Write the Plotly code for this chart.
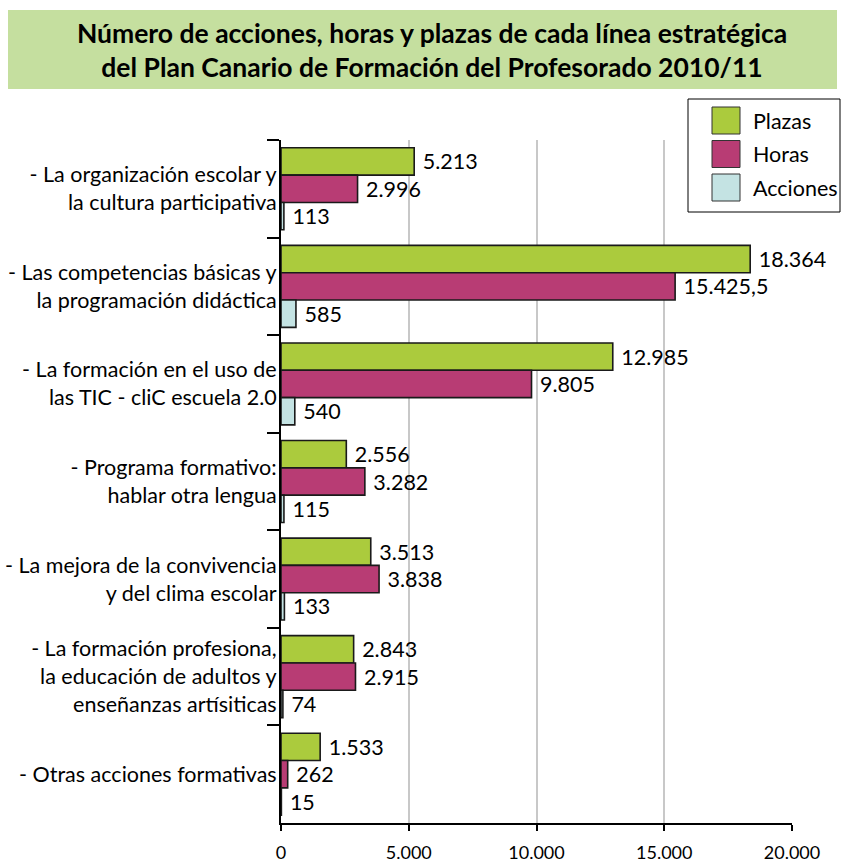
import plotly.graph_objects as go

categories = [
    "- La organización escolar y<br>la cultura participativa",
    "- Las competencias básicas y<br>la programación didáctica",
    "- La formación en el uso de<br>las TIC - cliC escuela 2.0",
    "- Programa formativo:<br>hablar otra lengua",
    "- La mejora de la convivencia<br>y del clima escolar",
    "- La formación profesiona,<br>la educación de adultos y<br>enseñanzas artísiticas",
    "- Otras acciones formativas",
]
series_names = ["Plazas", "Horas", "Acciones"]
plazas = [5213, 18364, 12985, 2556, 3513, 2843, 1533]
horas = [2996, 15425.5, 9805, 3282, 3838, 2915, 262]
acciones = [113, 585, 540, 115, 133, 74, 15]
x_tickvals = [0, 5000, 10000, 15000, 20000]
x_ticktext = ["0", "5.000", "10.000", "15.000", "20.000"]
title_text = ("Número de acciones, horas y plazas de cada línea estratégica<br>"
              "del Plan Canario de Formación del Profesorado 2010/11")

colors = ["#ABCB3D", "#B83C74", "#C4E3E3"]
FONT = "Lato"

W, H = 843, 862
PLOT_L, PLOT_R, PLOT_T, PLOT_B = 281, 792, 140, 823
L, R, T, B = PLOT_L, W - PLOT_R, PLOT_T, H - PLOT_B
PW, PH = PLOT_R - PLOT_L, PLOT_B - PLOT_T


def px_x(p):
    return (p - PLOT_L) / PW


def px_y(p):
    return (PLOT_B - p) / PH


fig = go.Figure()
for name, vals, col in zip(series_names, [plazas, horas, acciones], colors):
    fig.add_trace(go.Bar(
        name=name, y=categories, x=vals, orientation="h",
        marker=dict(color=col, line=dict(color="#1A1A1A", width=1.6)),
        texttemplate="\u00a0%{x:,}", textposition="outside",
        textfont=dict(family=FONT, size=21.5, color="black"),
        cliponaxis=False, showlegend=False,
    ))

shapes = [
    dict(type="rect", xref="paper", yref="paper",
         x0=px_x(8), x1=px_x(837), y0=px_y(89), y1=px_y(10),
         fillcolor="#C5DF9F", line=dict(width=0), layer="below"),
    dict(type="rect", xref="paper", yref="paper",
         x0=px_x(688), x1=px_x(840), y0=px_y(212), y1=px_y(99),
         fillcolor="white", line=dict(color="black", width=1)),
]
annotations = []
for i, (name, col) in enumerate(zip(series_names, colors)):
    cy = 120.5 + i * 33.5
    shapes.append(dict(type="rect", xref="paper", yref="paper",
                       x0=px_x(712), x1=px_x(740), y0=px_y(cy + 13.5), y1=px_y(cy - 13.5),
                       fillcolor=col, line=dict(color="#333333", width=1)))
    annotations.append(dict(xref="paper", yref="paper", x=px_x(751), y=px_y(cy),
                            xanchor="left", yanchor="middle", showarrow=False,
                            text=name, font=dict(family=FONT, size=21.5, color="black")))

fig.update_layout(
    width=W, height=H,
    margin=dict(l=L, r=R, t=T, b=B, autoexpand=False),
    paper_bgcolor="white", plot_bgcolor="white",
    barmode="group", bargap=0.16, bargroupgap=0,
    separators=",.",
    title=dict(text=title_text, xref="container", yref="container",
               x=432 / W, xanchor="center", y=1 - 42.5 / H, yanchor="middle",
               font=dict(family=FONT, size=26.5, color="black", weight="bold")),
    xaxis=dict(range=[0, 20000], tickvals=x_tickvals, ticktext=x_ticktext,
               showgrid=True, gridcolor="#C8C8C8", gridwidth=1.5,
               zeroline=False, showline=True, linecolor="black", linewidth=2,
               ticks="outside", ticklen=6, tickcolor="black", tickwidth=1.5,
               ticklabelstandoff=6,
               tickfont=dict(family=FONT, size=18, color="black")),
    yaxis=dict(autorange="reversed", type="category",
               showgrid=False, zeroline=False,
               showline=True, linecolor="black", linewidth=2,
               ticks="outside", tickson="boundaries", ticklen=12,
               tickcolor="black", tickwidth=1.5,
               ticklabelstandoff=-2,
               tickfont=dict(family=FONT, size=21.5, color="black")),
    shapes=shapes, annotations=annotations,
    showlegend=False,
)

fig.write_html(
    "out.html",
    config={"displayModeBar": False},
    post_script="document.body.style.margin='0';document.body.style.overflow='hidden';",
)
